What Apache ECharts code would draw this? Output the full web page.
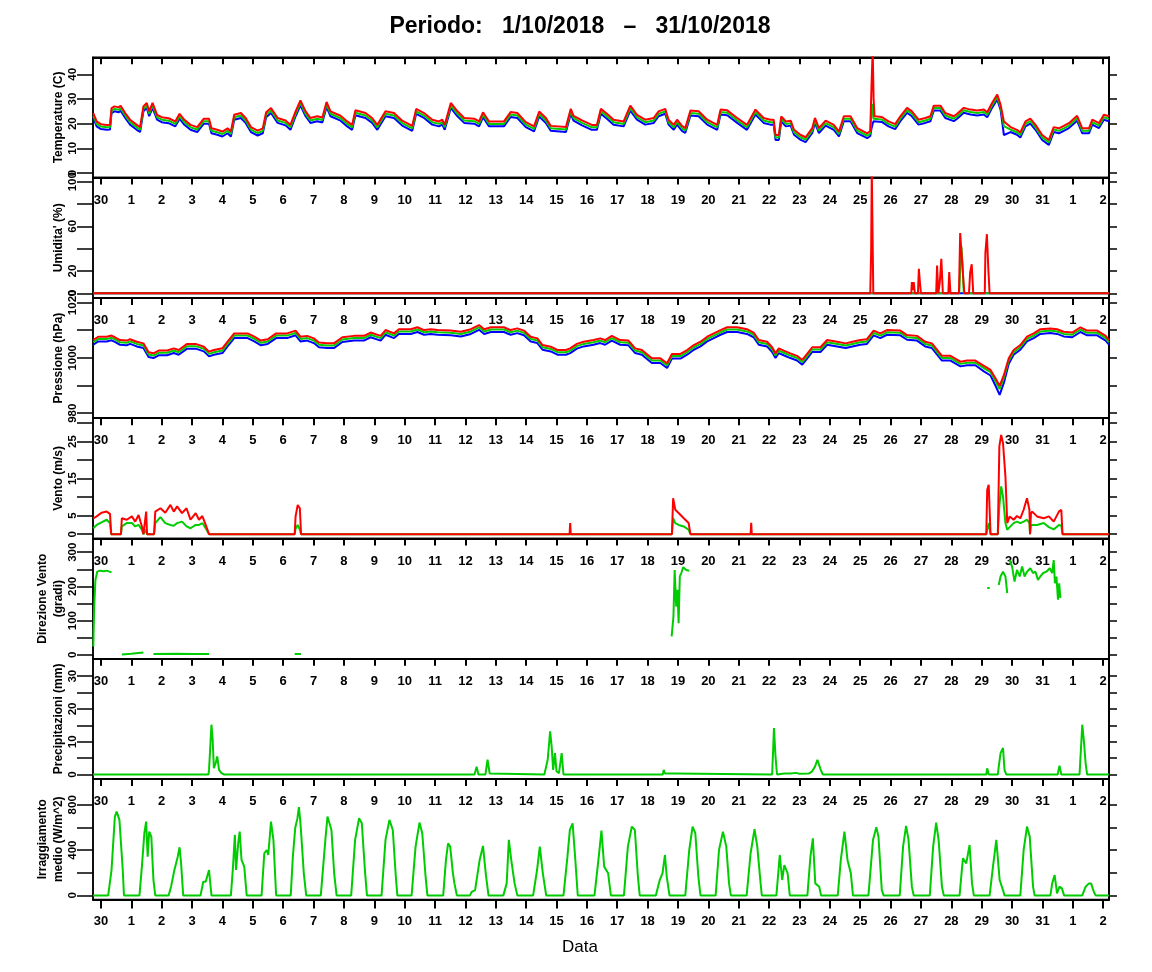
<!DOCTYPE html>
<html><head><meta charset="utf-8">
<script src="https://cdn.jsdelivr.net/npm/echarts@6/dist/echarts.min.js"></script>
<style>html,body{margin:0;padding:0;background:#fff}#c{width:1152px;height:972px}</style>
</head><body><div id="c"></div>
<script>
// ---------- DATA (x = days since 30 Sep 00:00) ----------
const dayTicks = [0,1,2,3,4,5,6,7,8,9,10,11,12,13,14,15,16,17,18,19,20,21,22,23,24,25,26,27,28,29,30,31,32,33];
const dayTickLabels = ['30','1','2','3','4','5','6','7','8','9','10','11','12','13','14','15','16','17','18','19','20','21','22','23','24','25','26','27','28','29','30','31','1','2'];

const tempDays = [-0.25,-0.14,0.0,0.2,0.3,0.35,0.45,0.58,0.65,0.8,
0.96,1.18,1.29,1.4,1.51,1.59,1.7,1.85,2.0,2.23,
2.45,2.59,2.73,2.95,3.17,3.39,3.56,3.64,3.83,4.0,
4.17,4.28,4.39,4.61,4.77,4.94,5.16,5.33,5.44,5.6,
5.82,6.08,6.24,6.41,6.57,6.74,6.9,7.12,7.29,7.43,
7.56,7.89,8.11,8.27,8.38,8.71,8.93,9.1,9.37,9.65,
9.92,10.25,10.38,10.64,10.91,11.13,11.24,11.32,11.52,11.74,
11.96,12.29,12.45,12.58,12.78,13.27,13.49,13.71,13.99,14.26,
14.43,14.65,14.81,15.31,15.47,15.56,15.84,16.16,16.33,16.46,
16.66,16.88,17.21,17.43,17.65,17.92,18.2,18.36,18.58,18.69,
18.86,18.97,19.13,19.24,19.41,19.68,19.96,20.29,20.4,20.62,
20.95,21.27,21.55,21.82,22.04,22.15,22.21,22.32,22.4,22.55,
22.71,22.82,23.04,23.2,23.42,23.51,23.64,23.86,24.13,24.3,
24.46,24.68,24.9,25.23,25.33,25.37,25.41,25.44,25.47,25.71,
25.93,26.15,26.32,26.54,26.7,26.92,27.14,27.31,27.42,27.64,
27.8,28.08,28.19,28.41,28.63,28.85,29.07,29.18,29.34,29.51,
29.62,29.73,29.95,30.16,30.27,30.44,30.6,30.77,30.99,31.21,
31.37,31.54,31.7,31.87,32.14,32.31,32.53,32.64,32.86,33.02,
33.19];
const tempMax = [24.3,20.9,19.8,19.5,19.6,26.3,27.0,26.6,27.2,24.3,
21.6,19.5,18.6,27.0,28.4,25.0,28.4,23.6,22.6,22.2,
20.9,24.0,21.8,19.5,18.6,22.0,22.0,18.1,17.5,16.8,
18.1,16.8,23.6,24.3,22.2,18.6,17.2,18.1,24.6,26.3,
22.3,21.3,19.5,25.0,29.4,25.0,22.3,23.0,22.5,28.8,
25.0,23.2,20.9,19.5,25.4,24.3,22.3,19.5,25.0,24.3,
21.2,19.1,26.0,24.3,21.6,20.9,21.6,19.5,28.4,25.0,
22.3,22.0,20.9,24.6,20.9,20.9,24.7,24.3,20.6,18.9,
24.9,22.3,19.1,18.6,26.0,23.2,21.3,19.5,19.5,26.0,
24.0,21.6,20.9,27.3,23.6,21.6,22.3,25.0,26.0,21.6,
19.5,21.6,19.1,18.2,25.3,25.0,21.6,19.5,25.7,25.4,
22.3,19.5,25.7,22.3,21.6,21.6,15.4,15.4,22.9,20.9,
21.2,17.5,15.4,14.5,18.2,22.3,18.2,21.2,19.5,16.8,
23.0,23.0,18.2,16.1,17.0,35.0,50.0,30.0,23.0,22.7,
20.9,19.8,23.0,26.4,25.0,21.6,22.3,23.0,27.3,27.3,
24.3,23.0,24.0,26.4,25.7,25.3,25.7,24.6,28.4,31.8,
27.7,20.9,18.6,17.5,16.4,20.9,22.0,19.5,15.4,13.4,
18.6,18.1,19.1,20.2,23.2,18.1,18.1,21.6,20.2,23.6,
23.0];
const tempMean = [23.3,19.9,18.8,18.5,18.6,25.3,26.0,25.6,26.2,23.3,
20.6,18.5,17.6,26.0,27.4,24.0,27.4,22.6,21.6,21.2,
19.9,23.0,20.8,18.5,17.6,21.0,21.0,17.1,16.5,15.8,
17.1,15.8,22.6,23.3,21.2,17.6,16.2,17.1,23.6,25.3,
21.3,20.3,18.5,24.0,28.4,24.0,21.3,22.0,21.5,27.8,
24.0,22.2,19.9,18.5,24.4,23.3,21.3,18.5,24.0,23.3,
20.2,18.1,25.0,23.3,20.6,19.9,20.6,18.5,27.4,24.0,
21.3,21.0,19.9,23.6,19.9,19.9,23.7,23.3,19.6,17.9,
23.9,21.3,18.1,17.6,25.0,22.2,20.3,18.5,18.5,25.0,
23.0,20.6,19.9,26.3,22.6,20.6,21.3,24.0,25.0,20.6,
18.5,20.6,18.1,17.2,24.3,24.0,20.6,18.5,24.7,24.4,
21.3,18.5,24.7,21.3,20.6,20.6,14.4,14.4,21.9,19.9,
20.2,16.5,14.4,13.5,17.2,21.3,17.2,20.2,18.5,15.8,
22.0,22.0,17.2,15.1,16.0,24.0,28.0,22.0,22.0,21.7,
19.9,18.8,22.0,25.4,24.0,20.6,21.3,22.0,26.3,26.3,
23.3,22.0,23.0,25.4,24.7,24.3,24.7,23.6,27.4,30.8,
26.7,19.0,17.6,16.5,15.4,19.9,21.0,18.5,14.4,12.4,
17.6,17.1,18.1,19.2,22.2,17.1,17.1,20.6,19.2,22.6,
22.0];
const tempMin = [22.3,18.9,17.8,17.5,17.6,24.3,25.0,24.6,25.2,22.3,
19.6,17.5,16.6,25.0,26.4,23.0,26.4,21.6,20.6,20.2,
18.9,22.0,19.8,17.5,16.6,20.0,20.0,16.1,15.5,14.8,
16.1,14.8,21.6,22.3,20.2,16.6,15.2,16.1,22.6,24.3,
20.3,19.3,17.5,23.0,27.4,23.0,20.3,21.0,20.5,26.8,
23.0,21.2,18.9,17.5,23.4,22.3,20.3,17.5,23.0,22.3,
19.2,17.1,24.0,22.3,19.6,18.9,19.6,17.5,26.4,23.0,
20.3,20.0,18.9,22.6,18.9,18.9,22.7,22.3,18.6,16.9,
22.9,20.3,17.1,16.6,24.0,21.2,19.3,17.5,17.5,24.0,
22.0,19.6,18.9,25.3,21.6,19.6,20.3,23.0,24.0,19.6,
17.5,19.6,17.1,16.2,23.3,23.0,19.6,17.5,23.7,23.4,
20.3,17.5,23.7,20.3,19.6,19.6,13.4,13.4,20.9,18.9,
19.2,15.5,13.4,12.5,16.2,20.3,16.2,19.2,17.5,14.8,
21.0,21.0,16.2,14.1,15.0,18.0,20.0,21.0,21.0,20.7,
18.9,17.8,21.0,24.4,23.0,19.6,20.3,21.0,25.3,25.3,
22.3,21.0,22.0,24.4,23.7,23.3,23.7,22.6,26.4,29.8,
25.7,15.4,16.6,15.5,14.4,18.9,20.0,17.5,13.4,11.4,
16.6,16.1,17.1,18.2,21.2,16.1,16.1,19.6,18.2,21.6,
21.0];

const humMax = [[-0.26,0],[25.33,0],[25.36,39],[25.38,110],[25.41,110],[25.43,0],[26.68,0],[26.7,10],[26.74,3],[26.76,10],[26.8,0],
[26.9,0],[26.93,22],[26.97,8],[27.0,0],[27.5,0],[27.53,25],[27.57,0],[27.62,10],[27.67,31],[27.72,0],[27.9,0],[27.93,19],[27.97,0],
[28.25,0],[28.29,54],[28.34,54],[28.4,10],[28.43,0],[28.58,0],[28.62,19],[28.67,26],[28.72,0],[29.1,0],[29.12,36],[29.17,53],[29.22,20],[29.26,0],[33.19,0]];
const humMean = [[-0.26,0],[28.26,0],[28.3,30],[28.33,42],[28.37,25],[28.41,0],[33.19,0]];
const humMin = [[-0.26,0],[33.19,0]];

const presDays = [-0.25,-0.09,0.19,0.35,0.46,0.63,0.85,0.96,1.18,1.4,
1.57,1.73,1.9,2.18,2.4,2.56,2.84,3.12,3.39,3.56,
3.72,4.0,4.17,4.39,4.61,4.83,5.05,5.27,5.49,5.77,
6.13,6.41,6.57,6.79,7.01,7.18,7.45,7.67,7.95,8.33,
8.66,8.88,9.21,9.37,9.65,9.81,10.2,10.42,10.64,10.86,
11.08,11.52,11.85,12.18,12.45,12.62,12.84,13.27,13.49,13.71,
13.93,14.15,14.37,14.54,14.81,15.03,15.31,15.45,15.67,15.89,
16.22,16.44,16.6,16.82,17.1,17.37,17.59,17.81,18.14,18.42,
18.64,18.8,19.08,19.3,19.52,19.74,19.96,20.18,20.4,20.62,
20.95,21.27,21.49,21.66,21.93,22.1,22.21,22.32,22.48,22.7,
22.92,23.09,23.25,23.42,23.69,23.91,24.24,24.52,24.74,25.0,
25.22,25.44,25.66,25.88,26.32,26.54,26.87,27.14,27.36,27.69,
27.97,28.3,28.52,28.79,29.07,29.29,29.45,29.59,29.73,29.89,
30.05,30.27,30.49,30.71,30.93,31.26,31.48,31.7,31.98,32.25,
32.47,32.8,33.08,33.19];
const presMax = [1006.4,1007.6,1007.6,1008.0,1007.4,1006.4,1006.2,1006.7,1005.8,1005.2,
1002.0,1001.6,1002.6,1002.6,1003.4,1002.8,1005.0,1005.0,1004.0,1002.2,
1002.8,1003.4,1005.8,1008.8,1008.8,1008.8,1007.6,1006.2,1006.7,1008.8,
1008.8,1009.8,1007.6,1007.9,1007.0,1005.5,1005.2,1005.2,1007.4,1007.9,
1007.9,1009.1,1007.9,1010.0,1008.8,1010.3,1010.3,1011.0,1010.0,1010.3,
1010.0,1009.8,1009.4,1010.3,1011.8,1010.3,1011.0,1011.0,1010.0,1010.6,
1009.8,1007.6,1007.0,1004.6,1004.0,1002.8,1002.8,1003.4,1005.0,1005.8,
1006.4,1007.0,1006.4,1007.9,1006.4,1006.2,1003.4,1002.8,999.8,999.8,
998.0,1001.4,1001.4,1002.8,1004.6,1005.8,1007.6,1008.8,1010.0,1011.0,
1011.0,1010.3,1009.1,1006.4,1005.8,1003.8,1001.6,1003.4,1002.6,1001.6,
1000.7,999.2,1001.4,1003.8,1003.8,1006.4,1005.8,1005.2,1005.8,1006.4,
1006.7,1009.8,1008.8,1010.0,1009.8,1008.2,1007.9,1005.8,1005.2,1000.7,
1000.7,998.6,999.0,999.0,997.1,995.6,992.6,989.9,993.8,999.8,
1002.8,1004.6,1007.6,1008.8,1010.3,1010.6,1010.3,1009.4,1009.1,1011.0,
1009.8,1009.8,1007.9,1006.4];
const presMean = [1005.6,1006.8,1006.8,1007.2,1006.6,1005.6,1005.4,1005.9,1005.0,1004.4,
1001.2,1000.8,1001.8,1001.8,1002.6,1002.0,1004.2,1004.2,1003.2,1001.4,
1002.0,1002.6,1005.0,1008.0,1008.0,1008.0,1006.8,1005.4,1005.9,1008.0,
1008.0,1009.0,1006.8,1007.1,1006.2,1004.7,1004.4,1004.4,1006.6,1007.1,
1007.1,1008.3,1007.1,1009.2,1008.0,1009.5,1009.5,1010.2,1009.2,1009.5,
1009.2,1009.0,1008.6,1009.5,1011.0,1009.5,1010.2,1010.2,1009.2,1009.8,
1009.0,1006.8,1006.2,1003.8,1003.2,1002.0,1002.0,1002.6,1004.2,1005.0,
1005.6,1006.2,1005.6,1007.1,1005.6,1005.4,1002.6,1002.0,999.0,999.0,
997.2,1000.6,1000.6,1002.0,1003.8,1005.0,1006.8,1008.0,1009.2,1010.2,
1010.2,1009.5,1008.3,1005.6,1005.0,1003.0,1000.8,1002.6,1001.8,1000.8,
999.9,998.4,1000.6,1003.0,1003.0,1005.6,1005.0,1004.4,1005.0,1005.6,
1005.9,1009.0,1008.0,1009.2,1009.0,1007.4,1007.1,1005.0,1004.4,999.9,
999.9,997.8,998.2,998.2,996.3,994.8,991.6,988.7,992.8,999.0,
1002.0,1003.8,1006.8,1008.0,1009.5,1009.8,1009.5,1008.6,1008.3,1010.2,
1009.0,1009.0,1007.1,1005.6];
const presMin = [1004.7,1005.9,1005.9,1006.3,1005.7,1004.7,1004.5,1005.0,1004.1,1003.5,
1000.3,999.9,1000.9,1000.9,1001.7,1001.1,1003.3,1003.3,1002.3,1000.5,
1001.1,1001.7,1004.1,1007.1,1007.1,1007.1,1005.9,1004.5,1005.0,1007.1,
1007.1,1008.1,1005.9,1006.2,1005.3,1003.8,1003.5,1003.5,1005.7,1006.2,
1006.2,1007.4,1006.2,1008.3,1007.1,1008.6,1008.6,1009.3,1008.3,1008.6,
1008.3,1008.1,1007.7,1008.6,1010.1,1008.6,1009.3,1009.3,1008.3,1008.9,
1008.1,1005.9,1005.3,1002.9,1002.3,1001.1,1001.1,1001.7,1003.3,1004.1,
1004.7,1005.3,1004.7,1006.2,1004.7,1004.5,1001.7,1001.1,998.1,998.1,
996.3,999.7,999.7,1001.1,1002.9,1004.1,1005.9,1007.1,1008.3,1009.3,
1009.3,1008.6,1007.4,1004.7,1004.1,1002.1,999.9,1001.7,1000.9,999.9,
999.0,997.5,999.7,1002.1,1002.1,1004.7,1004.1,1003.5,1004.1,1004.7,
1005.0,1008.1,1007.1,1008.3,1008.1,1006.5,1006.2,1004.1,1003.5,999.0,
999.0,996.9,997.3,997.3,995.1,993.6,990.0,986.6,991.0,997.8,
1001.1,1002.9,1005.9,1007.1,1008.6,1008.9,1008.6,1007.7,1007.4,1009.3,
1008.1,1008.1,1006.2,1004.7];

const windDays = [-0.25,-0.14,0.02,0.19,0.3,0.34,0.66,0.69,0.85,1.02,
1.13,1.24,1.35,1.4,1.46,1.49,1.52,1.75,1.79,1.96,
2.12,2.29,2.4,2.51,2.67,2.82,2.95,3.12,3.23,3.34,
3.45,3.56,6.38,6.41,6.48,6.55,6.59,15.43,15.45,15.47,
18.8,18.84,18.91,19.02,19.19,19.35,19.41,21.39,21.41,21.43,
29.15,29.18,29.23,29.29,29.53,29.58,29.64,29.7,29.78,29.84,
29.92,30.05,30.16,30.27,30.38,30.49,30.57,30.59,30.62,30.66,
30.82,31.04,31.21,31.37,31.54,31.62,31.66,33.19];
const windMax = [4.3,4.8,5.8,6.1,5.5,0,0,4.3,3.9,4.8,
3.4,5.2,2.1,0,0,6.1,0,0,6.1,7.0,
5.8,7.9,6.1,7.5,5.7,7.0,3.9,5.7,3.9,4.9,
2.5,0,0,4.8,7.9,7.0,0,0,3.0,0,
0,9.7,6.6,5.7,4.3,3.0,0,0,3.1,0,
0,12.0,13.3,0,0,23.7,26.8,24.6,15.6,3.0,
4.8,3.9,4.9,4.3,6.6,9.7,6.6,0,5.5,6.1,
4.8,4.3,4.8,3.4,6.1,6.6,0,0];
const windMean = [1.6,2.5,3.2,3.9,3.0,0,0,2.1,3.0,3.0,
2.1,2.5,1.2,0,0,1.2,0,0,3.0,4.6,
3.0,2.5,2.3,3.0,3.4,2.1,1.6,2.5,2.5,3.0,
1.6,0,0,1.5,2.5,1.2,0,0,0.5,0,
0,4.3,3.0,2.5,2.1,1.2,0,0,0.5,0,
0,1.2,3.0,0,0,7.5,12.9,10.2,3.0,1.2,
1.9,3.0,3.4,3.0,3.4,3.9,3.0,0,2.5,3.0,
2.5,3.0,1.9,1.3,2.5,2.3,0,0];

const dirDays = [-0.25,-0.22,-0.18,-0.12,-0.03,0.1,0.19,0.35,0.5,
0.69,1.0,1.4,1.55,
1.73,2.5,3.0,3.56,4.0,
6.38,6.59,7.0,
18.79,18.85,18.89,18.94,18.98,19.02,19.06,19.11,19.17,19.27,19.37,19.5,
29.18,29.26,29.4,
29.56,29.62,29.7,29.78,29.84,29.88,
29.92,30.0,30.08,30.16,30.25,30.33,30.41,30.49,30.6,30.69,30.77,30.85,30.93,31.02,31.13,31.24,31.32,31.37,31.41,31.46,31.51,31.55,31.59];
const dirValues = [24,141,219,243,246,244,246,241,null,
1,3,7,null,
2,3,2,2,null,
2,2,null,
54,112,248,141,190,92,229,239,256,248,246,null,
195,195,null,
204,229,243,229,180,null,
277,258,214,248,229,258,229,243,253,239,243,219,229,239,243,253,239,277,209,229,161,209,166];

const precDays = [-0.26,3.54,3.56,3.59,3.64,3.68,3.72,3.78,3.83,3.89,
3.97,4.06,4.9,4.94,4.98,12.3,12.37,12.43,12.66,12.73,
12.8,12.85,14.6,14.66,14.71,14.79,14.84,14.89,14.95,15.0,
15.08,15.14,15.17,15.23,18.5,18.53,18.57,18.9,18.95,22.1,
22.16,22.21,22.26,22.5,22.7,22.9,23.0,23.3,23.41,23.51,
23.59,23.7,23.77,29.15,29.18,29.23,29.53,29.56,29.62,29.7,
29.75,29.81,31.5,31.56,31.62,32.22,32.31,32.36,32.42,32.47,
33.19];
const precValues = [0,0,1.4,6.5,15.2,10.6,1.9,3.5,5.5,1.4,
0.4,0,0,0.5,0,0,2.4,0,0,4.5,
0.3,0,0,0.4,4.5,13.2,8.6,1.4,6.5,1.0,
0.4,0.4,6.5,0,0,1.4,0.3,0.3,0,0,
14.2,5.5,0,0.3,0.3,0.5,0.2,0.3,0.9,2.4,
4.5,1.4,0,0,1.9,0,0,2.4,6.5,8.1,
1.4,0,0,2.7,0,0,15.2,10.6,3.5,0,
0];

const irradiance = [
[-0.26,0],[0.24,0],[0.35,224],[0.46,696],[0.52,740],[0.61,667],[0.72,224],[0.76,0],
[1.27,0],[1.35,254],[1.43,549],[1.49,652],[1.54,342],[1.59,563],[1.66,519],[1.73,136],[1.79,0],
[2.23,0],[2.31,77],[2.42,224],[2.53,342],[2.59,425],[2.64,283],[2.71,0],
[3.28,0],[3.37,121],[3.45,121],[3.56,224],[3.64,0],
[4.28,0],[4.35,254],[4.41,534],[4.45,224],[4.52,460],[4.57,563],[4.63,313],[4.72,254],[4.8,0],
[5.29,0],[5.38,372],[5.46,401],[5.51,357],[5.6,652],[5.68,490],[5.77,0],
[6.25,0],[6.32,342],[6.4,600],[6.47,680],[6.52,780],[6.57,640],[6.63,400],[6.68,195],[6.76,0],
[7.24,0],[7.39,490],[7.46,696],[7.52,681],[7.59,578],[7.68,195],[7.76,0],
[8.24,0],[8.37,490],[8.5,681],[8.59,637],[8.7,195],[8.76,0],
[9.24,0],[9.37,490],[9.5,667],[9.61,578],[9.71,165],[9.76,0],
[10.23,0],[10.36,431],[10.49,643],[10.58,549],[10.69,165],[10.75,0],
[11.27,0],[11.36,313],[11.43,460],[11.5,431],[11.59,195],[11.64,106],[11.72,0],
[12.15,0],[12.21,32],[12.32,47],[12.47,313],[12.58,437],[12.67,195],[12.76,0],
[13.25,0],[13.36,106],[13.43,490],[13.51,313],[13.62,106],[13.71,0],
[14.23,0],[14.36,224],[14.45,431],[14.55,195],[14.66,0],
[15.23,0],[15.36,342],[15.44,578],[15.53,637],[15.62,313],[15.7,0],
[16.25,0],[16.38,313],[16.48,572],[16.57,254],[16.7,195],[16.79,0],
[17.22,0],[17.35,431],[17.48,608],[17.58,578],[17.68,165],[17.74,0],
[18.27,0],[18.4,136],[18.49,195],[18.57,357],[18.63,165],[18.72,0],
[19.24,0],[19.37,401],[19.48,608],[19.57,549],[19.67,165],[19.74,0],
[20.24,0],[20.35,401],[20.48,563],[20.59,431],[20.68,106],[20.74,0],
[21.26,0],[21.39,372],[21.52,584],[21.61,431],[21.72,106],[21.76,0],
[22.24,0],[22.35,357],[22.43,136],[22.5,268],[22.61,195],[22.68,0],
[23.26,0],[23.36,342],[23.44,504],[23.52,106],[23.65,77],[23.71,0],
[24.26,0],[24.36,313],[24.48,563],[24.58,313],[24.69,195],[24.76,0],
[25.27,0],[25.42,490],[25.53,602],[25.6,519],[25.71,47],[25.77,0],
[26.3,0],[26.41,431],[26.51,614],[26.59,490],[26.7,77],[26.76,0],
[27.29,0],[27.4,431],[27.5,643],[27.58,490],[27.69,77],[27.75,0],
[28.27,0],[28.38,327],[28.49,283],[28.6,445],[28.68,106],[28.74,0],
[29.26,0],[29.37,254],[29.48,490],[29.59,136],[29.7,47],[29.75,0],
[30.27,0],[30.38,401],[30.49,608],[30.58,519],[30.69,77],[30.74,0],
[31.26,0],[31.32,106],[31.4,180],[31.48,18],[31.56,77],[31.64,62],[31.71,0],
[32.31,0],[32.42,77],[32.53,106],[32.6,106],[32.69,32],[32.75,0],
[33.19,0]];

// ---------- LAYOUT ----------
const FONT = '"Liberation Sans", Arial, Helvetica, sans-serif';
const X_MIN = -0.26, X_MAX = 33.19;
const LEFT = 93, WIDTH = 1016, TOP0 = 57.3, PH = 120.3;
const RED = '#ff0000', GREEN = '#00cd00', BLUE = '#0000ff';

const panels = [
  {name:['Temperature (C)'], min:-1.87, max:46.9, ticks:[0,10,20,30,40], labels:[0,10,20,30,40]},
  {name:["Umidita' (%)"], min:-4.1, max:103.7, ticks:[0,20,40,60,80,100], labels:[0,20,60,100]},
  {name:['Pressione (hPa)'], min:978.2, max:1021.6, ticks:[980,990,1000,1010,1020], labels:[980,1000,1020]},
  {name:['Vento (m/s)'], min:-1.16, max:31.3, ticks:[0,5,10,15,20,25,30], labels:[0,5,15,25]},
  {name:['Direzione Vento','(gradi)'], min:-11.7, max:340, ticks:[0,50,100,150,200,250,300], labels:[0,100,200,300]},
  {name:['Precipitazioni (mm)'], min:-1.4, max:35.3, ticks:[0,5,10,15,20,25,30], labels:[0,10,20,30]},
  {name:['Irraggiamento','medio (W/m^2)'], min:-35.4, max:1027, ticks:[0,200,400,600,800], labels:[0,400,800]}
];

function dayLabel(v){ const k = Math.round(v); return dayTickLabels[k] !== undefined ? dayTickLabels[k] : ''; }
function plainNum(v){ return String(Math.round(v)); }

const grids = [], xAxes = [], yAxes = [], series = [], graphics = [];
panels.forEach((p, i) => {
  const top = TOP0 + i * PH;
  grids.push({left: LEFT, width: WIDTH, top: top, height: PH, show: true, borderColor: '#000', borderWidth: 1.5, backgroundColor: 'rgba(0,0,0,0)'});
  xAxes.push({type:'value', gridIndex:i, min:X_MIN, max:X_MAX, position:'top',
    axisLine:{show:true, onZero:false, lineStyle:{color:'#000', width:2}},
    axisTick:{show:true, inside:true, length:7, customValues:dayTicks, lineStyle:{color:'#000', width:2}},
    axisLabel:{show:i>0, inside:true, margin:16, customValues:dayTicks, formatter:dayLabel, color:'#000', fontWeight:'bold', fontSize:13, fontFamily:FONT},
    splitLine:{show:false}});
  yAxes.push({type:'value', gridIndex:i, min:p.min, max:p.max, position:'left',
    axisLine:{show:true, onZero:false, lineStyle:{color:'#000', width:1.5}},
    axisTick:{show:true, inside:false, length:16, customValues:p.ticks, lineStyle:{color:'#000', width:1.5}},
    axisLabel:{show:true, rotate:90, margin:14, customValues:p.labels, formatter:plainNum, color:'#000', fontWeight:'bold', fontSize:11.5, fontFamily:FONT},
    splitLine:{show:false}});
  yAxes.push({type:'value', gridIndex:i, min:p.min, max:p.max, position:'right',
    axisLine:{show:true, onZero:false, lineStyle:{color:'#000', width:2}},
    axisTick:{show:true, inside:false, length:8, customValues:p.ticks, lineStyle:{color:'#000', width:1.5}},
    axisLabel:{show:false}, splitLine:{show:false}});
  const cy = top + PH / 2;
  if (p.name.length === 1) {
    graphics.push({type:'text', x:59, y:cy, rotation:Math.PI/2, style:{text:p.name[0], font:'bold 12px ' + FONT, fill:'#000', align:'center', verticalAlign:'middle'}});
  } else {
    graphics.push({type:'text', x:43, y:cy, rotation:Math.PI/2, style:{text:p.name[0], font:'bold 12px ' + FONT, fill:'#000', align:'center', verticalAlign:'middle'}});
    graphics.push({type:'text', x:59, y:cy, rotation:Math.PI/2, style:{text:p.name[1], font:'bold 12px ' + FONT, fill:'#000', align:'center', verticalAlign:'middle'}});
  }
});
// bottom date axis under the last panel
xAxes.push({type:'value', gridIndex:6, min:X_MIN, max:X_MAX, position:'bottom',
  axisLine:{show:true, onZero:false, lineStyle:{color:'#000', width:2}},
  axisTick:{show:true, inside:false, length:9, customValues:dayTicks, lineStyle:{color:'#000', width:2}},
  axisLabel:{show:true, margin:16, customValues:dayTicks, formatter:dayLabel, color:'#000', fontWeight:'bold', fontSize:13, fontFamily:FONT},
  splitLine:{show:false}});

function line(i, data, color){
  return {type:'line', xAxisIndex:i, yAxisIndex:2*i, data:data, symbol:'none', showSymbol:false,
    lineStyle:{color:color, width:2}, itemStyle:{color:color}, animation:false, silent:true, connectNulls:false, clip:true};
}
const zipXY = (xs, ys) => xs.map((d, k) => [d, (ys[k] === null || ys[k] === undefined) ? '-' : ys[k]]);

series.push(line(0, zipXY(tempDays, tempMin), BLUE));
series.push(line(0, zipXY(tempDays, tempMean), GREEN));
series.push(line(0, zipXY(tempDays, tempMax), RED));
series.push(line(1, humMin, BLUE));
series.push(line(1, humMean, GREEN));
series.push(line(1, humMax, RED));
series.push(line(2, zipXY(presDays, presMin), BLUE));
series.push(line(2, zipXY(presDays, presMean), GREEN));
series.push(line(2, zipXY(presDays, presMax), RED));
series.push(line(3, zipXY(windDays, windMean), GREEN));
series.push(line(3, zipXY(windDays, windMax), RED));
series.push(line(4, zipXY(dirDays, dirValues), GREEN));
series.push(line(5, zipXY(precDays, precValues), GREEN));
series.push(line(6, irradiance, GREEN));

graphics.push({type:'text', x:580, y:27, style:{text:'Periodo:   1/10/2018   \u2013   31/10/2018', font:'bold 23px ' + FONT, fill:'#000', align:'center', verticalAlign:'middle'}});
graphics.push({type:'text', x:580, y:947, style:{text:'Data', font:'17px ' + FONT, fill:'#000', align:'center', verticalAlign:'middle'}});

const chart = echarts.init(document.getElementById('c'), null, {renderer:'canvas', width:1152, height:972});
chart.setOption({
  backgroundColor:'#fff', animation:false,
  grid:grids, xAxis:xAxes, yAxis:yAxes, series:series, graphic:graphics
});
</script></body></html>
